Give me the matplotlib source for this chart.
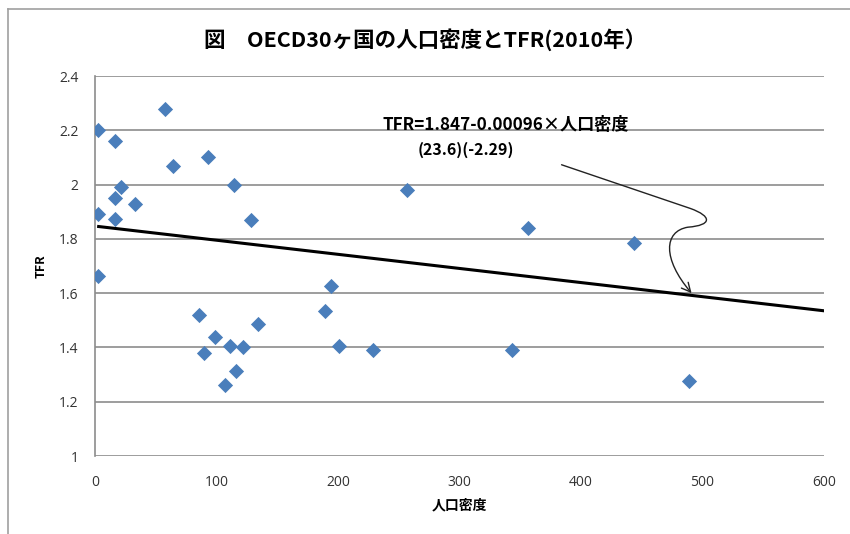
import matplotlib
matplotlib.use("Agg")
import matplotlib.pyplot as plt
from matplotlib.path import Path
from matplotlib.patches import FancyArrowPatch
from matplotlib.lines import Line2D

plt.rcParams["font.family"] = ["Noto Sans CJK JP", "DejaVu Sans"]

# ── データ ───────────────────────────────────────────────────────
density = [2.5, 16.5, 58, 2.5, 16.5, 21, 33, 16.5, 64, 93, 114, 128, 2.5,
           257, 356, 444, 86, 90, 99, 111, 122, 116, 107, 134, 189, 194, 201,
           229, 343, 489]
tfr = [2.20, 2.16, 2.28, 1.89, 1.95, 1.99, 1.93, 1.875, 2.07, 2.10, 2.00,
       1.87, 1.665, 1.98, 1.84, 1.785, 1.52, 1.38, 1.44, 1.405, 1.40, 1.315,
       1.26, 1.485, 1.535, 1.625, 1.405, 1.39, 1.39, 1.275]

# 回帰直線 (描かれた線に合わせる)
line_x = [3, 600]
line_intercept = 1.847
line_slope = -0.00052

x_ticks = [0, 100, 200, 300, 400, 500, 600]
y_ticks = [1, 1.2, 1.4, 1.6, 1.8, 2, 2.2, 2.4]
y_tick_labels = ["1", "1.2", "1.4", "1.6", "1.8", "2", "2.2", "2.4"]

title = "図　OECD30ヶ国の人口密度とTFR(2010年）"
eq_text = "TFR=1.847-0.00096×人口密度"
t_text = "(23.6)(-2.29)"

# 矢印の経路 (データ座標)
arrow_verts = [(384, 2.073), (490, 1.912),
               (508, 1.883), (508, 1.850), (488, 1.843),
               (468, 1.828), (467, 1.726), (491, 1.600)]
arrow_codes = [Path.MOVETO, Path.LINETO,
               Path.CURVE4, Path.CURVE4, Path.CURVE4,
               Path.CURVE4, Path.CURVE4, Path.CURVE4]

# ── 描画 ─────────────────────────────────────────────────────────────────
fig = plt.figure(figsize=(8.5, 5.34), dpi=100)
ax = fig.add_axes([95 / 850, 1 - 456 / 534, 729 / 850, 380 / 534])

grid_c = "#8c8c8c"
ax.set_xlim(0, 600)
ax.set_ylim(1, 2.4)
ax.set_yticks(y_ticks)
ax.set_yticklabels(y_tick_labels)
ax.set_xticks(x_ticks)
ax.yaxis.grid(True, color=grid_c, linewidth=1.2)
ax.set_axisbelow(True)
for side in ["top", "right", "bottom"]:
    ax.spines[side].set_visible(False)
ax.spines["left"].set_color(grid_c)
ax.spines["left"].set_linewidth(1.2)
ax.tick_params(length=0, labelsize=10, colors="#333333")
ax.tick_params(axis="y", pad=12)
ax.tick_params(axis="x", pad=14)
for lab in ax.get_xticklabels() + ax.get_yticklabels():
    lab.set_family(["Open Sans", "DejaVu Sans"])

ax.scatter(density, tfr, marker="D", s=60, color="#4a7ebb", linewidths=0,
           zorder=3)

line_y = [line_intercept + line_slope * v for v in line_x]
ax.plot(line_x, line_y, color="black", linewidth=2.2, zorder=2)

ax.text(237, 2.219, eq_text, fontsize=12.3, fontweight="bold", ha="left",
        va="center")
ax.text(305, 2.128, t_text, fontsize=11.5, fontweight="bold", ha="center",
        va="center")

arrow = FancyArrowPatch(path=Path(arrow_verts, arrow_codes),
                        arrowstyle="->", mutation_scale=16,
                        color="#222222", linewidth=1.0, zorder=4)
ax.add_patch(arrow)

ax.set_xlabel("人口密度", fontsize=10, fontweight="bold", labelpad=6)
ax.set_ylabel("TFR", fontsize=9, fontweight="bold", labelpad=8)

fig.text(0.5, 1 - 40 / 534, title, fontsize=15.5, fontweight="bold",
         ha="center", va="center")

# チャート枠
fig.add_artist(Line2D([8 / 850, 8 / 850], [0, 1 - 9 / 534],
                      transform=fig.transFigure, color="#a0a0a0", lw=1.2))
fig.add_artist(Line2D([8 / 850, 1], [1 - 9 / 534, 1 - 9 / 534],
                      transform=fig.transFigure, color="#a0a0a0", lw=1.2))

fig.savefig("out.png", dpi=100)
